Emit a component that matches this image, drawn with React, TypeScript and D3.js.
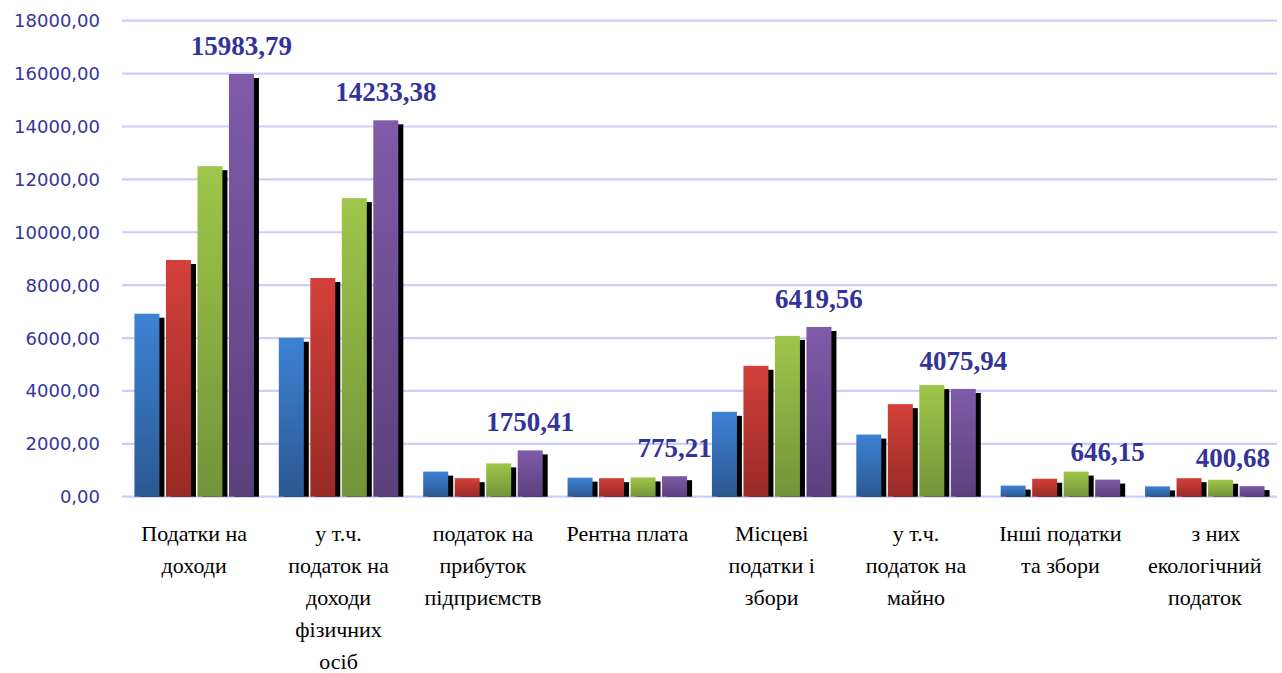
import { useEffect } from 'react';
import * as d3 from 'd3';

const categories = [
  ['Податки на', 'доходи'],
  ['у т.ч.', 'податок на', 'доходи', 'фізичних', 'осіб'],
  ['податок на', 'прибуток', 'підприємств'],
  ['Рентна плата'],
  ['Місцеві', 'податки і', 'збори'],
  ['у т.ч.', 'податок на', 'майно'],
  ['Інші податки', 'та збори'],
  ['    з них', 'екологічний', 'податок'],
];

const series1 = [6920, 6010, 950, 720, 3210, 2350, 420, 390];
const series2 = [8950, 8270, 700, 700, 4950, 3500, 680, 700];
const series3 = [12500, 11290, 1260, 730, 6080, 4220, 950, 640];
const series4 = [15983.79, 14233.38, 1750.41, 775.21, 6419.56, 4075.94, 646.15, 400.68];

const valueLabels = ['15983,79', '14233,38', '1750,41', '775,21', '6419,56', '4075,94', '646,15', '400,68'];
const yTicks = [0, 2000, 4000, 6000, 8000, 10000, 12000, 14000, 16000, 18000];

const seriesList = [series1, series2, series3, series4];
const gradients = [
  ['#3d82d4', '#2b5890'],
  ['#d3403b', '#982a26'],
  ['#9fc64a', '#73933a'],
  ['#7f5ba9', '#5b407d'],
];

const W = 1282;
const H = 673;
const left = 122;
const right = 1277;

export default function App() {
  useEffect(() => {
    document.body.style.margin = '0';
  }, []);

  const x = d3.scaleBand<number>().domain(d3.range(categories.length)).range([left, right]);
  const inner = d3.scaleBand<number>().domain(d3.range(4)).range([0, 119.5]).paddingInner(0.206).paddingOuter(0);
  const y = d3.scaleLinear().domain([0, 18000]).range([496.7, 20.7]);
  const fmt = (v: number) => d3.format('.2f')(v).replace('.', ',');

  return (
    <svg width={W} height={H} style={{ display: 'block', background: '#fff' }}>
      <defs>
        {gradients.map((g, i) => (
          <linearGradient key={i} id={`g${i}`} x1="0" y1="0" x2="0" y2="1">
            <stop offset="0%" stopColor={g[0]} />
            <stop offset="100%" stopColor={g[1]} />
          </linearGradient>
        ))}
      </defs>

      {yTicks.map((t) => (
        <g key={t}>
          <line x1={left} x2={right} y1={y(t)} y2={y(t)} stroke="#cdcdfa" strokeWidth={2.2} />
          <text
            x={100}
            y={y(t)}
            dy="0.36em"
            textAnchor="end"
            fontFamily="'DejaVu Sans', sans-serif"
            fontSize={18}
            fill="#35359a"
          >
            {fmt(t)}
          </text>
        </g>
      ))}

      {categories.map((_, ci) => {
        const c = (x(ci) as number) + x.bandwidth() / 2;
        const x0 = c - 59.75;
        return (
          <g key={ci}>
            {seriesList.map((s, si) => {
              const bx = x0 + (inner(si) as number);
              const bw = inner.bandwidth();
              const by = y(s[ci]);
              const bh = y(0) - by;
              return (
                <g key={si}>
                  <rect x={bx + 5} y={by + 4} width={bw} height={Math.max(0, bh - 4)} fill="#000" />
                  <rect x={bx} y={by} width={bw} height={bh} fill={`url(#g${si})`} />
                </g>
              );
            })}
          </g>
        );
      })}

      {categories.map((_, ci) => {
        const c = (x(ci) as number) + x.bandwidth() / 2;
        const px = c - 59.75 + (inner(3) as number) + inner.bandwidth() / 2;
        // keep the last label inside the frame
        const nearEdge = px + 40 > W - 12;
        return (
          <text
            key={ci}
            x={nearEdge ? W - 12 : px}
            y={y(series4[ci]) - 19}
            textAnchor={nearEdge ? 'end' : 'middle'}
            fontFamily="'Liberation Serif', 'Times New Roman', serif"
            fontWeight="bold"
            fontSize={27}
            fill="#333399"
          >
            {valueLabels[ci]}
          </text>
        );
      })}

      {categories.map((lines, ci) => {
        const c = (x(ci) as number) + x.bandwidth() / 2;
        return (
          <text
            key={ci}
            textAnchor="middle"
            fontFamily="'Liberation Serif', 'Times New Roman', serif"
            fontSize={22}
            fill="#000"
            style={{ whiteSpace: 'pre' }}
          >
            {lines.map((l, li) => (
              <tspan key={li} x={c} y={541 + li * 32}>
                {l}
              </tspan>
            ))}
          </text>
        );
      })}
    </svg>
  );
}
